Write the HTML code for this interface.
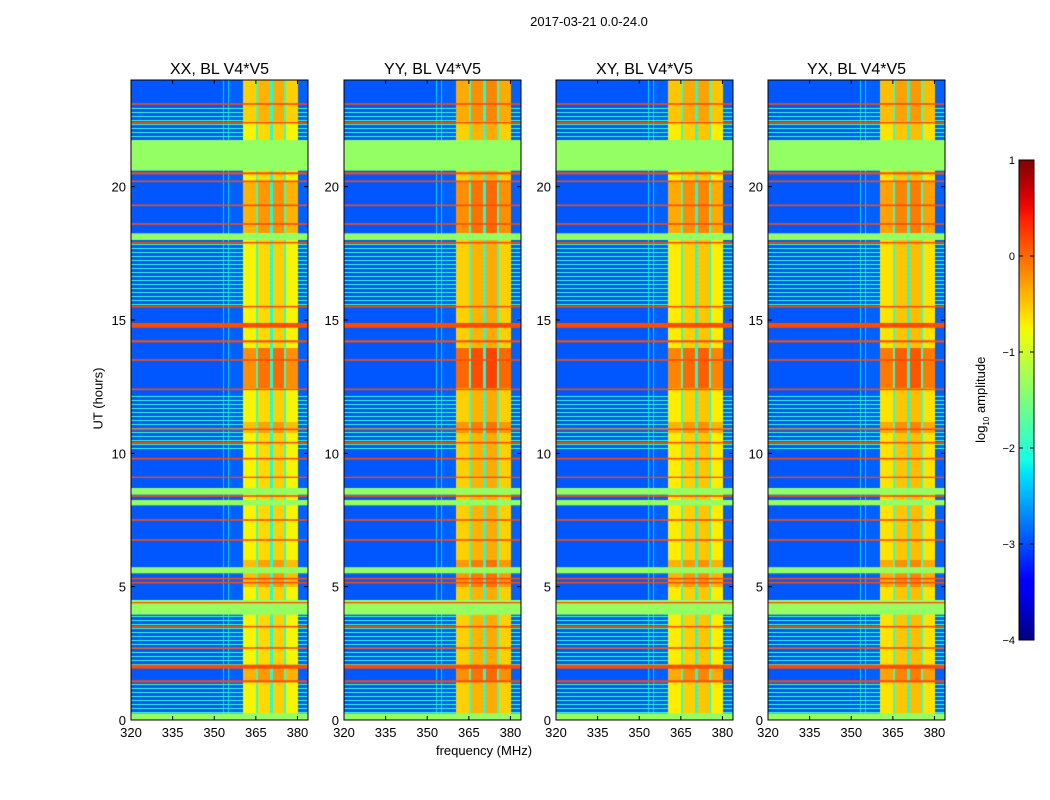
<!DOCTYPE html>
<html><head><meta charset="utf-8">
<style>
body{margin:0;background:#fff;font-family:"Liberation Sans",sans-serif;}
#root{position:relative;width:1050px;height:800px;overflow:hidden;background:#fff;}
.t{position:absolute;color:#000;white-space:nowrap;}
canvas{position:absolute;}
</style></head><body>
<div id="root">
<div class="t" style="left:489px;top:14px;width:200px;text-align:center;font-size:13px;">2017-03-21 0.0-24.0</div>
<div class="t" style="left:384px;top:743px;width:200px;text-align:center;font-size:13px;">frequency (MHz)</div>
<div class="t" style="left:48px;top:391px;width:100px;text-align:center;font-size:13px;transform:rotate(-90deg);">UT (hours)</div>
<div class="t" style="left:922px;top:391px;width:120px;text-align:center;font-size:13px;transform:rotate(-90deg);">log<sub style="font-size:8px">10</sub> amplitude</div>
<svg id="ov" width="1050" height="800" style="position:absolute;left:0;top:0"></svg>
</div>
<script>
// ---- data ----
const panelTitles = ["XX, BL V4*V5","YY, BL V4*V5","XY, BL V4*V5","YX, BL V4*V5"];
const panelGain = [0, 0.2, 0.05, 0.1];
const freqTicks = [320,335,350,365,380];
const timeTicks = [0,5,10,15,20];
const cbarTicks = [1,0,-1,-2,-3,-4];
// frequency profile: [startMHz, endMHz, log amplitude]
const freqProfile = [
 [320,353,-2.95],[353,353.5,-2.3],[353.5,355,-2.95],[355,355.5,-2.3],[355.5,360,-2.9],
 [360,365,-0.75],[365,365.6,-1.9],[365.6,370,-0.6],[370,370.8,-2.1],
 [370.8,375,-0.55],[375,375.6,-1.9],[375.6,380,-0.75],[380,384,-2.9]
];
// flagged intervals in hours
const flagged = [[0,0.25],[3.95,4.5],[5.5,5.73],[8.05,8.25],[8.45,8.7],[18.0,18.25],[20.6,21.75]];
// RFI lines (hour centre, thickness in hours)
const rfiLines = [[1.45,0.08],[2.0,0.15],[2.7,0.06],[3.5,0.06],[4.4,0.05],[5.15,0.06],[5.3,0.06],[6.75,0.06],[7.5,0.06],[8.4,0.06],[9.1,0.05],[9.8,0.06],[10.4,0.06],[10.9,0.06],[12.4,0.06],[13.5,0.06],[14.2,0.08],[14.8,0.18],[15.5,0.06],[17.9,0.06],[18.6,0.06],[19.3,0.06],[20.2,0.06],[20.5,0.08],[22.4,0.06],[23.1,0.06]];
// intervals with dense light streaks
const streaky = [[0.3,1.4],[2.1,3.9],[10.2,12.3],[15.6,18.0],[21.8,23.0]];
// hot intervals where the bright band is stronger (boost)
const hot = [[1.5,2.0,0.35],[5.0,6.0,0.3],[10.8,11.2,0.3],[12.5,14.0,0.55],[18.3,20.2,0.35],[22.5,24,0.2]];

const RS=[[0,0],[0.35,0],[0.66,1],[0.89,1],[1,0.5]];
const GS=[[0,0],[0.125,0],[0.375,1],[0.64,1],[0.91,0],[1,0]];
const BS=[[0,0.5],[0.11,1],[0.34,1],[0.65,0],[1,0]];
function seg(s,v){for(let i=1;i<s.length;i++)if(v<=s[i][0]){const a=s[i-1],b=s[i];return a[1]+(b[1]-a[1])*(v-a[0])/(b[0]-a[0]);}return s[s.length-1][1];}
function jet(v){v=Math.max(0,Math.min(1,v));return `rgb(${Math.round(255*seg(RS,v))},${Math.round(255*seg(GS,v))},${Math.round(255*seg(BS,v))})`;}
const vmin=-4,vmax=1;
const root=document.getElementById('root');
const ov=document.getElementById('ov');
const panelsX=[131,344,556,768], pw=177, ptop=80, ph=640;
const f0=320, f1=383.8, t0=0, t1=24;
const NS='http://www.w3.org/2000/svg';
function add(tag,attrs,parent){const e=document.createElementNS(NS,tag);for(const k in attrs)e.setAttribute(k,attrs[k]);(parent||ov).appendChild(e);return e;}
function profileAt(f){for(const p of freqProfile)if(f>=p[0]&&f<p[1])return p[2];return -2.9;}
function inAny(h,arr){for(const a of arr)if(h>=a[0]&&h<a[1])return a;return null;}

panelsX.forEach((px,pi)=>{
 const xs=f=>px+(f-f0)/(f1-f0)*pw;
 const ys=h=>ptop+ph-(h-t0)/(t1-t0)*ph;
 const cv=document.createElement('canvas');
 cv.width=pw;cv.height=ph;cv.style.left=px+'px';cv.style.top=ptop+'px';
 
 
 root.insertBefore(cv,ov);
 const ctx=cv.getContext('2d');
 const dT=0.05,dF=0.4;
 for(let h=0;h<24;h+=dT){
  const row=Math.round(h/dT);
  const st=inAny(h,streaky);
  const ht=inAny(h,hot);
  for(let f=f0;f<f1;f+=dF){
   let v=profileAt(f);
   if(v>-1.5)v+=panelGain[pi]+(ht?ht[2]:0);
   if(st&&row%3===0&&v<-1.5)v=-1.9;
   ctx.fillStyle=jet((v-vmin)/(vmax-vmin));
   const x=xs(f)-px, y=ys(h+dT)-ptop;
   ctx.fillRect(Math.floor(x),Math.floor(y),Math.ceil(xs(f+dF)-xs(f))+1,Math.ceil(ys(h)-ys(h+dT))+1);
  }
 }
 flagged.forEach(b=>{ctx.fillStyle=jet((-1.35-vmin)/(vmax-vmin));ctx.fillRect(0,ys(b[1])-ptop,pw,ys(b[0])-ys(b[1]));});
 rfiLines.forEach(l=>{ctx.fillStyle=jet((0.15-vmin)/(vmax-vmin));const h=Math.max(1.2,l[1]/24*ph);ctx.fillRect(0,ys(l[0])-ptop-h/2,pw,h);});
 const fr=add('rect',{x:px,y:ptop,width:pw,height:ph,fill:'none',stroke:'#000','stroke-width':1});
 
 
 const tt=add('text',{x:px+pw/2,y:74,'text-anchor':'middle','font-size':16,'font-family':'Liberation Sans, sans-serif'});
 tt.textContent=panelTitles[pi];
 
 
 freqTicks.forEach(f=>{const x=xs(f);
  add('line',{x1:x,x2:x,y1:ptop+ph,y2:ptop+ph-4,stroke:'#000'});add('line',{x1:x,x2:x,y1:ptop,y2:ptop+4,stroke:'#000'});
  const t=add('text',{x:x,y:737,'text-anchor':'middle','font-size':13,'font-family':'Liberation Sans, sans-serif'});t.textContent=f;
  
  });
 timeTicks.forEach(h=>{const y=ys(h);
  add('line',{x1:px,x2:px+4,y1:y,y2:y,stroke:'#000'});add('line',{x1:px+pw,x2:px+pw-4,y1:y,y2:y,stroke:'#000'});
  const t=add('text',{x:px-5,y:y+5,'text-anchor':'end','font-size':13,'font-family':'Liberation Sans, sans-serif'});t.textContent=h;
  
  });
});
// colorbar
const cbx=1019,cbw=15,cbt=160,cbh=480;
const defs=add('defs',{});const g=add('linearGradient',{id:'jg',x1:0,y1:1,x2:0,y2:0},defs);
for(let i=0;i<=40;i++)add('stop',{offset:i/40,'stop-color':jet(i/40)},g);
const cb=add('rect',{x:cbx,y:cbt,width:cbw,height:cbh,fill:'url(#jg)',stroke:'#000'});


cbarTicks.forEach(v=>{const y=cbt+cbh-(v-vmin)/(vmax-vmin)*cbh;
 add('line',{x1:cbx,x2:cbx+4,y1:y,y2:y,stroke:'#000'});add('line',{x1:cbx+cbw,x2:cbx+cbw-4,y1:y,y2:y,stroke:'#000'});
 const t=add('text',{x:cbx-4,y:y+4,'text-anchor':'end','font-size':11,'font-family':'Liberation Sans, sans-serif'});t.textContent=v<0?'\u2212'+(-v):v;
 
 });
</script>
</body></html>
